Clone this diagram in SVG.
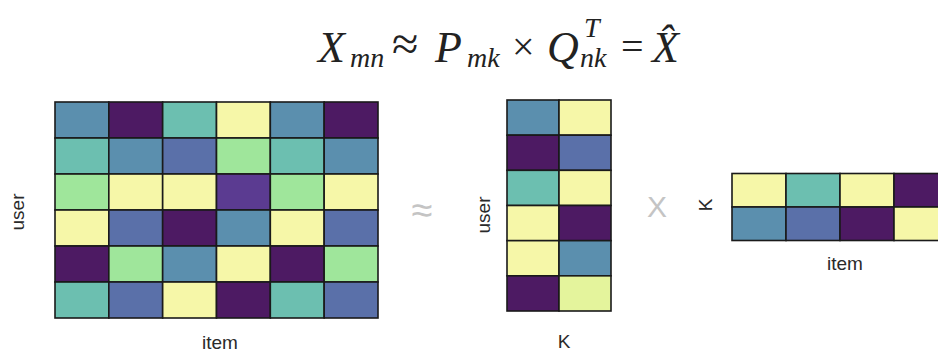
<svg xmlns="http://www.w3.org/2000/svg" width="938" height="356" viewBox="0 0 938 356">
<style>
.c{stroke:#1a1a1a;stroke-width:1.6}
.sb{fill:#5b8fae}.dp{fill:#4d1a63}.tl{fill:#6cbfb0}.lg{fill:#9fe69b}
.py{fill:#f6f7a8}.bl{fill:#5a70a9}.pu{fill:#5b3b91}.lm{fill:#e4f49c}
.m{font-family:"Liberation Serif","Times New Roman",serif;font-style:italic;fill:#222}
.mo{font-family:"Liberation Serif","Times New Roman",serif;fill:#222}
.lb{font-family:"Liberation Sans",Arial,sans-serif;font-size:19px;fill:#2a2a2a}
.op{font-family:"Liberation Sans",Arial,sans-serif;fill:#c4c4c4}
</style>
<rect width="938" height="356" fill="#ffffff"/>
<g id="formula">
<text class="m" x="318" y="62" font-size="44">X</text>
<text class="m" x="350" y="67" font-size="28">mn</text>
<text class="mo" x="392" y="60" font-size="48">≈</text>
<text class="m" x="435" y="62" font-size="44">P</text>
<text class="m" x="467" y="67" font-size="28">mk</text>
<text class="mo" x="512" y="60" font-size="40">×</text>
<text class="m" x="547" y="62" font-size="44">Q</text>
<text class="m" x="584" y="37" font-size="28">T</text>
<text class="m" x="580" y="67" font-size="28">nk</text>
<text class="mo" x="621" y="60" font-size="40">=</text>
<text class="m" x="652" y="62" font-size="44">X̂</text>
</g>
<g id="matrix-X">
<g class="c">
<rect class="sb" x="55" y="102" width="53.83" height="36"/><rect class="dp" x="108.83" y="102" width="53.83" height="36"/><rect class="tl" x="162.67" y="102" width="53.83" height="36"/><rect class="py" x="216.5" y="102" width="53.83" height="36"/><rect class="sb" x="270.33" y="102" width="53.83" height="36"/><rect class="dp" x="324.17" y="102" width="53.83" height="36"/>
<rect class="tl" x="55" y="138" width="53.83" height="36"/><rect class="sb" x="108.83" y="138" width="53.83" height="36"/><rect class="bl" x="162.67" y="138" width="53.83" height="36"/><rect class="lg" x="216.5" y="138" width="53.83" height="36"/><rect class="tl" x="270.33" y="138" width="53.83" height="36"/><rect class="sb" x="324.17" y="138" width="53.83" height="36"/>
<rect class="lg" x="55" y="174" width="53.83" height="36"/><rect class="py" x="108.83" y="174" width="53.83" height="36"/><rect class="py" x="162.67" y="174" width="53.83" height="36"/><rect class="pu" x="216.5" y="174" width="53.83" height="36"/><rect class="lg" x="270.33" y="174" width="53.83" height="36"/><rect class="py" x="324.17" y="174" width="53.83" height="36"/>
<rect class="py" x="55" y="210" width="53.83" height="36"/><rect class="bl" x="108.83" y="210" width="53.83" height="36"/><rect class="dp" x="162.67" y="210" width="53.83" height="36"/><rect class="sb" x="216.5" y="210" width="53.83" height="36"/><rect class="py" x="270.33" y="210" width="53.83" height="36"/><rect class="bl" x="324.17" y="210" width="53.83" height="36"/>
<rect class="dp" x="55" y="246" width="53.83" height="36"/><rect class="lg" x="108.83" y="246" width="53.83" height="36"/><rect class="sb" x="162.67" y="246" width="53.83" height="36"/><rect class="py" x="216.5" y="246" width="53.83" height="36"/><rect class="dp" x="270.33" y="246" width="53.83" height="36"/><rect class="lg" x="324.17" y="246" width="53.83" height="36"/>
<rect class="tl" x="55" y="282" width="53.83" height="36"/><rect class="bl" x="108.83" y="282" width="53.83" height="36"/><rect class="py" x="162.67" y="282" width="53.83" height="36"/><rect class="dp" x="216.5" y="282" width="53.83" height="36"/><rect class="tl" x="270.33" y="282" width="53.83" height="36"/><rect class="bl" x="324.17" y="282" width="53.83" height="36"/>
</g>
<text class="lb" transform="translate(24,212) rotate(-90)" text-anchor="middle">user</text>
<text class="lb" x="220" y="349" text-anchor="middle">item</text>
</g>
<g id="approx">
<text class="op" x="422" y="223" font-size="38" text-anchor="middle">≈</text>
</g>
<g id="matrix-P">
<g class="c">
<rect class="sb" x="507" y="100" width="52" height="35.17"/><rect class="py" x="559" y="100" width="52" height="35.17"/>
<rect class="dp" x="507" y="135.17" width="52" height="35.17"/><rect class="bl" x="559" y="135.17" width="52" height="35.17"/>
<rect class="tl" x="507" y="170.33" width="52" height="35.17"/><rect class="py" x="559" y="170.33" width="52" height="35.17"/>
<rect class="py" x="507" y="205.5" width="52" height="35.17"/><rect class="dp" x="559" y="205.5" width="52" height="35.17"/>
<rect class="py" x="507" y="240.67" width="52" height="35.17"/><rect class="sb" x="559" y="240.67" width="52" height="35.17"/>
<rect class="dp" x="507" y="275.83" width="52" height="35.17"/><rect class="lm" x="559" y="275.83" width="52" height="35.17"/>
</g>
<text class="lb" transform="translate(490,215) rotate(-90)" text-anchor="middle">user</text>
<text class="lb" x="564" y="348" text-anchor="middle">K</text>
</g>
<g id="times">
<text class="op" x="657" y="217" font-size="30" text-anchor="middle">X</text>
</g>
<g id="matrix-Q">
<g class="c">
<rect class="py" x="732" y="173.5" width="54" height="33.5"/><rect class="tl" x="786" y="173.5" width="54" height="33.5"/><rect class="py" x="840" y="173.5" width="54" height="33.5"/><rect class="dp" x="894" y="173.5" width="54" height="33.5"/>
<rect class="sb" x="732" y="207" width="54" height="33.5"/><rect class="bl" x="786" y="207" width="54" height="33.5"/><rect class="dp" x="840" y="207" width="54" height="33.5"/><rect class="py" x="894" y="207" width="54" height="33.5"/>
</g>
<text class="lb" transform="translate(712,205) rotate(-90)" text-anchor="middle">K</text>
<text class="lb" x="845" y="270" text-anchor="middle">item</text>
</g>
</svg>
